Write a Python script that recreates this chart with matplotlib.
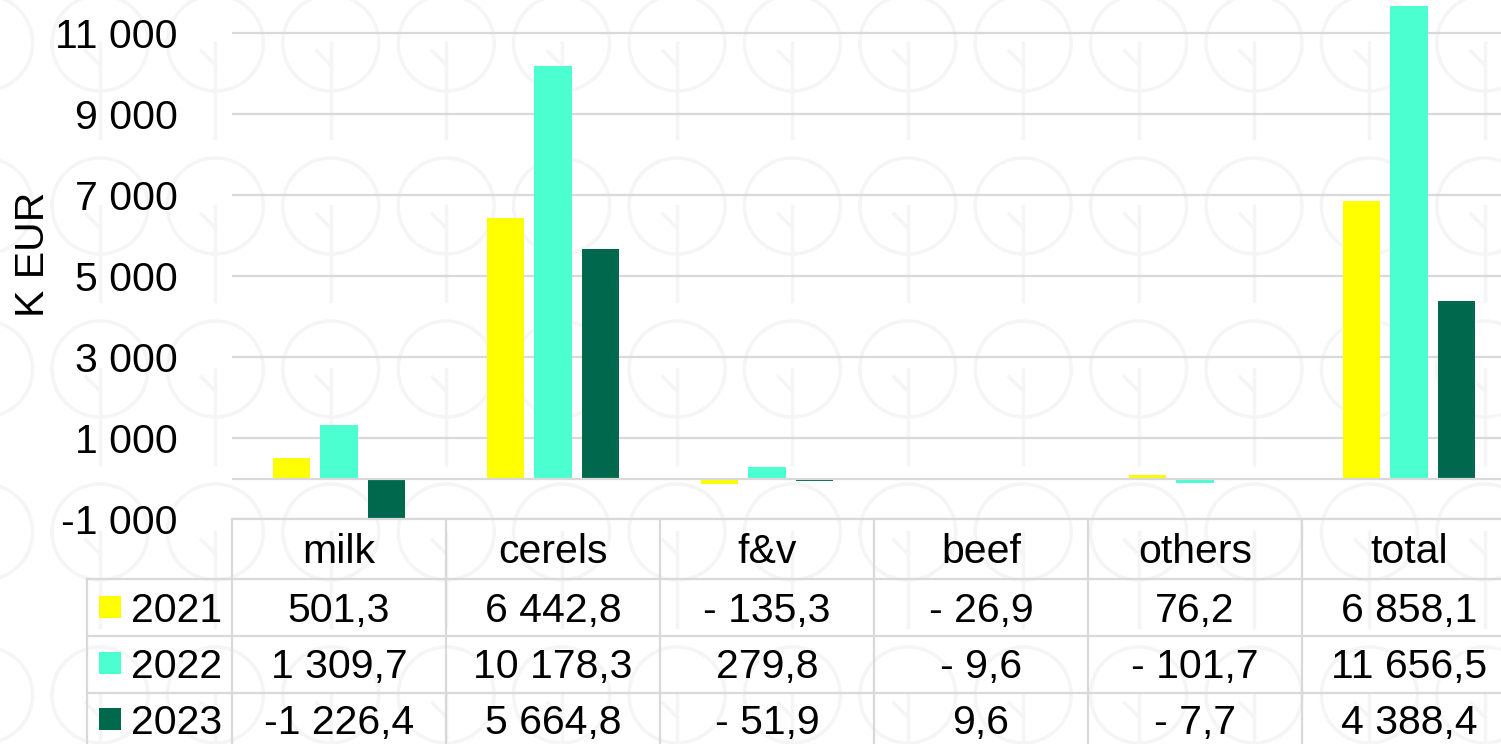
import numpy as np
import matplotlib
matplotlib.use("Agg")
import matplotlib.pyplot as plt
from matplotlib.patches import Circle, Rectangle
from matplotlib.lines import Line2D
from matplotlib.transforms import IdentityTransform, blended_transform_factory

# ---- data ----
categories = ["milk", "cerels", "f&v", "beef", "others", "total"]
years = ["2021", "2022", "2023"]
values_2021 = [501.3, 6442.8, -135.3, -26.9, 76.2, 6858.1]
values_2022 = [1309.7, 10178.3, 279.8, -9.6, -101.7, 11656.5]
values_2023 = [-1226.4, 5664.8, -51.9, 9.6, -7.7, 4388.4]
series = [values_2021, values_2022, values_2023]
colors = ["#FFFF00", "#4BFFD0", "#00684C"]
yticks = [-1000, 1000, 3000, 5000, 7000, 9000, 11000]

plt.rcParams['font.family'] = ['Liberation Sans', 'DejaVu Sans']

W, H = 1501, 744
fig = plt.figure(figsize=(W / 100, H / 100), dpi=100)

# ---- faint watermark (behind everything) ----
wm = "#f5f5f5"
for j in range(5):
    cy = 43 + 163 * j
    for k in range(-1, 14):
        cx = 100 + 115.4 * k
        c = Circle((cx, H - cy), 48, transform=IdentityTransform(), fill=False,
                   edgecolor=wm, lw=2.5, zorder=-10)
        fig.patches.append(c)
        fig.lines.append(Line2D([cx, cx], [H - cy, H - cy - 95], transform=IdentityTransform(),
                                color=wm, lw=2.5, zorder=-10))
        fig.lines.append(Line2D([cx, cx - 14], [H - cy - 22, H - cy - 8], transform=IdentityTransform(),
                                color=wm, lw=2.5, zorder=-10))

def fy(py):
    return 1 - py / H

ax = fig.add_axes([232 / W, fy(519), 1284 / W, 526.5 / H])
ax.set_zorder(1)
ax.set_facecolor('none')
ax.set_xlim(-0.5, len(categories) - 0.5)
ax.set_ylim(-1000, 12000)

x = np.arange(len(categories))
step = 0.221
width = 0.175
for i, (vals, col) in enumerate(zip(series, colors)):
    ax.bar(x + (i - 1) * step, vals, width=width, color=col, zorder=3, clip_on=True)

grid_c = "#D9D9D9"
ax.set_yticks(yticks)
ax.set_yticklabels([f"{t:,}".replace(",", " ") for t in yticks])
ax.yaxis.grid(True, color=grid_c, lw=1.6, zorder=1)
ax.set_axisbelow(True)
ax.axhline(0, color=grid_c, lw=1.6, zorder=4)
ax.set_xticks([])
for s in ax.spines.values():
    s.set_visible(False)
ax.tick_params(axis='y', length=0, pad=39, labelsize=29.5)

fig.text(33 / W, fy(254), "K EUR", rotation=90, ha='center', va='center', fontsize=29.5, zorder=5)

# ---- data table ----
def fmt(v):
    s = f"{abs(v):,.1f}".replace(",", " ").replace(".", ",")
    if v < 0:
        s = ("-" if abs(v) >= 1000 else "- ") + s
    return s

tr = blended_transform_factory(ax.transData, fig.transFigure)
label_left = -0.5 - 145 / 214.0
row_lines = [519, 579, 636, 693]
for k, py in enumerate(row_lines):
    x0 = -0.5 if k == 0 else label_left
    fig.lines.append(Line2D([x0, len(categories) - 0.5], [fy(py), fy(py)], transform=tr,
                            color=grid_c, lw=1.6, zorder=2))
for k in range(len(categories) + 1):
    fig.lines.append(Line2D([k - 0.5, k - 0.5], [fy(519), 0], transform=tr,
                            color=grid_c, lw=1.6, zorder=2))
fig.lines.append(Line2D([label_left, label_left], [fy(579), 0], transform=tr,
                        color=grid_c, lw=1.6, zorder=2))

for i, c in enumerate(categories):
    fig.text(i, fy(563), c, transform=tr, ha='center', va='baseline', fontsize=29.5, zorder=5)

baselines = [622, 678, 734]
for r, (yr, vals, col) in enumerate(zip(years, series, colors)):
    by = baselines[r]
    fig.patches.append(Rectangle((99, H - by + 4), 22, 22, transform=IdentityTransform(),
                                 facecolor=col, edgecolor='none', zorder=3))
    fig.text(131 / W, fy(by), yr, ha='left', va='baseline', fontsize=29.5, zorder=5)
    for i, v in enumerate(vals):
        fig.text(i, fy(by), fmt(v), transform=tr, ha='center', va='baseline', fontsize=29.5, zorder=5)

fig.savefig("out.png", dpi=100)
